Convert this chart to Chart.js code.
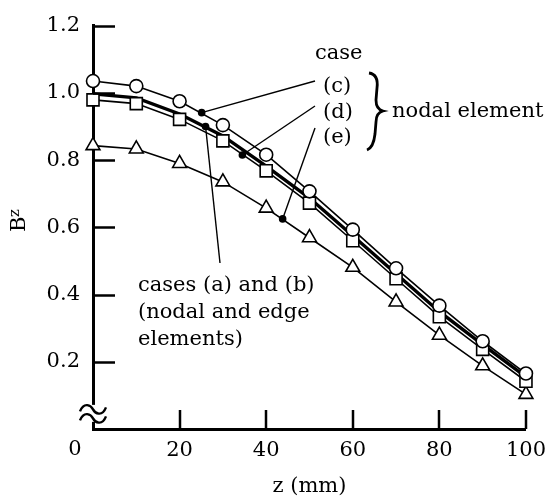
<!DOCTYPE html>
<html>
<head>
<meta charset="utf-8">
<script src="https://cdn.jsdelivr.net/npm/chart.js@4.4.1/dist/chart.umd.min.js"></script>
<style>
  html, body { margin: 0; padding: 0; background: #fff; }
</style>
</head>
<body>
<canvas id="myChart" width="555" height="501"></canvas>
<script>
const zValues = [0, 10, 20, 30, 40, 50, 60, 70, 80, 90, 100];
const caseC = [1.035, 1.020, 0.975, 0.904, 0.816, 0.707, 0.593, 0.478, 0.367, 0.261, 0.165];
const caseD = [0.979, 0.968, 0.921, 0.857, 0.768, 0.672, 0.560, 0.447, 0.334, 0.237, 0.142];
const caseE = [0.843, 0.833, 0.790, 0.735, 0.657, 0.569, 0.481, 0.378, 0.279, 0.188, 0.103];
const caseAB = [0.997, 0.985, 0.937, 0.872, 0.782, 0.687, 0.575, 0.462, 0.349, 0.251, 0.155];
const xTickValues = [0, 20, 40, 60, 80, 100];
const yTickValues = [0.2, 0.4, 0.6, 0.8, 1.0, 1.2];

const FONT = '"DejaVu Serif", serif';

function pts(ys) {
    return zValues.map((z, i) => ({ x: z, y: ys[i] }));
}

function line(ctx, x1, y1, x2, y2) {
    ctx.beginPath();
    ctx.moveTo(x1, y1);
    ctx.lineTo(x2, y2);
    ctx.stroke();
}

// ticks pointing inward, axis break, pointers and labels
const annotate = {
    id: 'annotate',
    afterDraw(chart) {
        const ctx = chart.ctx;
        const xs = chart.scales.x;
        const ys = chart.scales.y;
        const area = chart.chartArea;
        ctx.save();
        ctx.strokeStyle = '#000';
        ctx.fillStyle = '#000';

        ctx.lineWidth = 2.5;
        yTickValues.forEach(v => {
            const py = Math.round(ys.getPixelForValue(v)) + 0.5;
            line(ctx, area.left, py, area.left + 22, py);
        });
        xTickValues.slice(1).forEach(v => {
            const px = Math.round(xs.getPixelForValue(v));
            line(ctx, px, area.bottom, px, area.bottom - 19);
        });

        // "0" label sits left of the axis
        ctx.font = '21px ' + FONT;
        ctx.textAlign = 'center';
        ctx.textBaseline = 'middle';
        ctx.fillText('0', area.left - 18, 450);

        // axis break
        const by = ys.getPixelForValue(0.045);
        ctx.fillStyle = '#fff';
        ctx.fillRect(area.left - 4, by - 9, 8, 17);
        ctx.fillStyle = '#000';
        ctx.lineWidth = 2.4;
        [-4.5, 4.5].forEach(d => {
            const cx = area.left, cy = by + d;
            ctx.beginPath();
            ctx.moveTo(cx - 13, cy + 2);
            ctx.bezierCurveTo(cx - 9, cy - 8, cx - 2, cy - 4, cx, cy);
            ctx.bezierCurveTo(cx + 2, cy + 4, cx + 9, cy + 8, cx + 13, cy - 2);
            ctx.stroke();
        });

        // pointer lines and dots
        ctx.lineWidth = 1.4;
        const pointers = [
            [25.1, 0.941, 315, 81],
            [34.5, 0.815, 315, 106],
            [43.8, 0.625, 315, 128],
            [26.0, 0.900, 220, 263]
        ];
        pointers.forEach(p => {
            const px = xs.getPixelForValue(p[0]);
            const py = ys.getPixelForValue(p[1]);
            line(ctx, px, py, p[2], p[3]);
            ctx.beginPath();
            ctx.arc(px, py, 3.8, 0, Math.PI * 2);
            ctx.fill();
        });

        // annotation text
        ctx.font = '21px ' + FONT;
        ctx.textAlign = 'left';
        ctx.textBaseline = 'alphabetic';
        ctx.fillText('case', 315, 59);
        ctx.fillText('(c)', 323, 92);
        ctx.fillText('(d)', 323, 118);
        ctx.fillText('(e)', 323, 143);
        ctx.fillText('nodal element', 392, 117);
        ctx.fillText('cases (a) and (b)', 138, 291);
        ctx.fillText('(nodal and edge', 138, 318);
        ctx.fillText('elements)', 138, 345);

        // brace
        ctx.lineWidth = 2.8;
        ctx.beginPath();
        ctx.moveTo(369, 73);
        ctx.bezierCurveTo(376, 74, 378, 80, 377, 88);
        ctx.lineTo(376, 100);
        ctx.bezierCurveTo(376, 107, 379, 110, 383, 111);
        ctx.bezierCurveTo(379, 112, 376, 115, 376, 122);
        ctx.lineTo(375, 134);
        ctx.bezierCurveTo(374, 143, 372, 148, 367, 150);
        ctx.stroke();

        // y title B_z
        ctx.save();
        ctx.translate(25, 224);
        ctx.rotate(-Math.PI / 2);
        ctx.textAlign = 'left';
        ctx.textBaseline = 'alphabetic';
        ctx.font = '21px ' + FONT;
        ctx.fillText('B', -8, 0);
        ctx.font = '15px ' + FONT;
        ctx.fillText('z', 7, -6);
        ctx.restore();

        ctx.restore();
    }
};

const markerStyle = {
    borderColor: '#000',
    borderWidth: 1.6,
    pointBackgroundColor: '#fff',
    pointBorderColor: '#000',
    pointBorderWidth: 1.6,
    tension: 0,
    clip: false
};

new Chart(document.getElementById('myChart').getContext('2d'), {
    type: 'line',
    data: {
        datasets: [
            Object.assign({ label: 'case (c)', data: pts(caseC), pointStyle: 'circle', pointRadius: 6.5 }, markerStyle),
            Object.assign({ label: 'case (d)', data: pts(caseD), pointStyle: 'rect', pointRadius: 8.5 }, markerStyle),
            Object.assign({ label: 'case (e)', data: pts(caseE), pointStyle: 'triangle', pointRadius: 8 }, markerStyle),
            { label: 'cases (a) and (b)', data: pts(caseAB), borderColor: '#000', borderWidth: 3.4, pointRadius: 0, tension: 0, clip: false }
        ]
    },
    options: {
        responsive: false,
        animation: false,
        layout: { padding: { top: 20, right: 28, left: 0, bottom: 0 } },
        plugins: {
            legend: { display: false },
            tooltip: { enabled: false }
        },
        scales: {
            x: {
                type: 'linear',
                min: 0,
                max: 100,
                afterBuildTicks: s => { s.ticks = xTickValues.map(v => ({ value: v })); },
                afterFit: s => { s.height = 72; },
                grid: { display: false, drawTicks: false },
                border: { display: true, width: 3, color: '#000' },
                ticks: {
                    color: '#000',
                    padding: 9,
                    font: { family: FONT, size: 21 },
                    callback: v => v === 0 ? '' : String(v)
                },
                title: {
                    display: true,
                    text: 'z (mm)',
                    color: '#000',
                    font: { family: FONT, size: 21 },
                    padding: { top: 0, bottom: 2 }
                }
            },
            y: {
                type: 'linear',
                min: 0,
                max: 1.2,
                afterBuildTicks: s => { s.ticks = yTickValues.map(v => ({ value: v })); },
                afterFit: s => { s.width = 93; },
                grid: { display: false, drawTicks: false },
                border: { display: true, width: 3, color: '#000' },
                ticks: {
                    color: '#000',
                    padding: 13,
                    font: { family: FONT, size: 21 },
                    callback: v => v.toFixed(1)
                }
            }
        }
    },
    plugins: [annotate]
});
</script>
</body>
</html>
